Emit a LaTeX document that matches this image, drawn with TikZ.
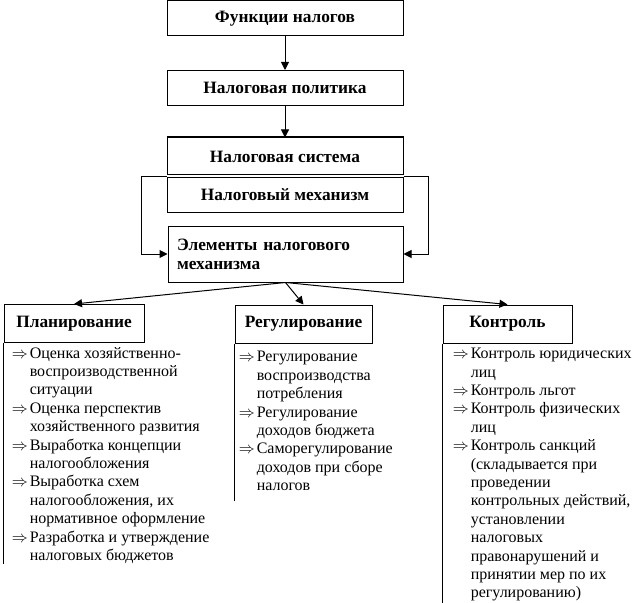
\documentclass[tikz,border=0pt]{standalone}
\usepackage{fontspec}
\setmainfont{Liberation Serif}
\usetikzlibrary{arrows.meta}

\tikzset{
  box/.style={draw, line width=0.75pt, inner sep=0pt, minimum width=177pt,
    minimum height=26.25pt, font=\bfseries\fontsize{13}{15}\selectfont},
  head/.style={box, minimum height=28.5pt},
  link/.style={line width=0.75pt, -{Triangle[length=6pt,width=6pt]}},
  items/.style={anchor=north west, inner sep=0pt, font=\fontsize{12}{13.8}\selectfont}
}
\newcommand{\pnt}{\makebox[12.5pt][l]{$\Rightarrow$}}

\begin{document}
\begin{tikzpicture}[x=0.75pt,y=-0.75pt]

    \useasboundingbox (0,0) rectangle (634,602);

    \node[box] (func) at (285,18.5) {Функции налогов};

    \node[box] (pol) at (285,88) {Налоговая политика};

    \node[box, minimum height=27.75pt] (sys) at (285,156.5) {Налоговая система};

    \node[box] (mech) at (285,195) {Налоговый механизм};

    \node[box, minimum width=176.25pt, minimum height=42pt, inner xsep=6.75pt,
      text width=162.75pt, align=left, font=\bfseries\fontsize{13}{14.25}\selectfont]
      (elem) at (285.5,254) {Элементы налогового\\механизма};

    \draw[line width=1.5pt] (sys.north west) -- (sys.north east);

    \draw[link] (func) -- (pol);
    \draw[link] (pol) -- (sys);

    \draw[link] (mech.north west) -- ++(-25,0) |- (elem.west);
    \draw[link] (mech.north east) -- ++(25,0) |- (elem.east);



    \node[head, minimum width=105pt] (plan) at (74,323.5) {Планирование};

    \node[head, minimum width=102.75pt] (reg) at (303.5,324) {Регулирование};

    \node[head, minimum width=96.75pt] (kon) at (507.5,324) {Контроль};

    \draw[link] (elem.south) -- (plan.north);
    \draw[link] (elem.south) -- (reg.north);
    \draw[link] (elem.south) -- (kon.north);



    \draw[line width=0.75pt] (plan.south west) -- ++(0,221);

    \node[items] (planlist) at ([xshift=6pt,yshift=-1.5pt]plan.south west)
    {\begin{tabular}{@{}l@{\hspace{1pt}}l@{}}
      \pnt & Оценка хозяйственно-\\
           & воспроизводственной\\
           & ситуации\\
      \pnt & Оценка перспектив\\
           & хозяйственного развития\\
      \pnt & Выработка концепции\\
           & налогообложения\\
      \pnt & Выработка схем\\
           & налогообложения, их\\
           & нормативное оформление\\
      \pnt & Разработка и утверждение\\
           & налоговых бюджетов
    \end{tabular}};

    \draw[line width=0.75pt] (reg.south west) -- ++(0,157);

    \node[items] (reglist) at ([xshift=3pt,yshift=-4pt]reg.south west)
    {\begin{tabular}{@{}l@{\hspace{1pt}}l@{}}
      \pnt & Регулирование\\
           & воспроизводства\\
           & потребления\\
      \pnt & Регулирование\\
           & доходов бюджета\\
      \pnt & Саморегулирование\\
           & доходов при сборе\\
           & налогов
    \end{tabular}};

    \draw[line width=0.75pt] (kon.south west) -- ++(0,260);

    \node[items] (konlist) at ([xshift=7.5pt,yshift=-1.5pt]kon.south west)
    {\begin{tabular}{@{}l@{\hspace{1pt}}l@{}}
      \pnt & Контроль юридических\\
           & лиц\\
      \pnt & Контроль льгот\\
      \pnt & Контроль физических\\
           & лиц\\
      \pnt & Контроль санкций\\
           & (складывается при\\
           & проведении\\
           & контрольных действий,\\
           & установлении\\
           & налоговых\\
           & правонарушений и\\
           & принятии мер по их\\
           & регулированию)
    \end{tabular}};

  \end{tikzpicture}
\end{document}
